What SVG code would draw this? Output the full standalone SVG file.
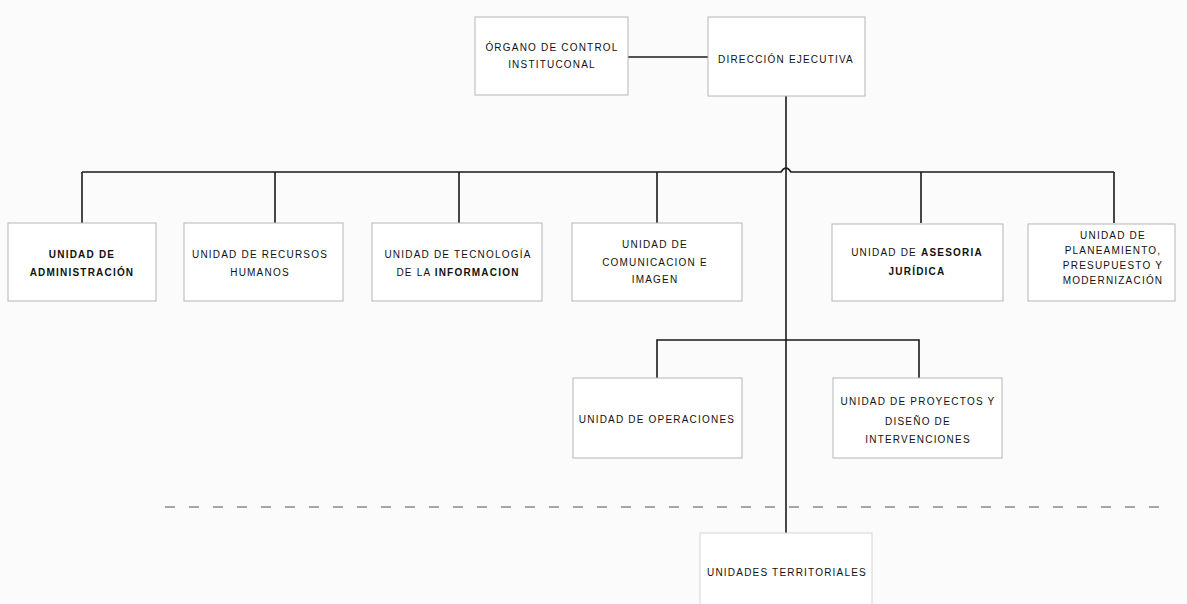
<svg xmlns="http://www.w3.org/2000/svg" width="1187" height="604" viewBox="0 0 1187 604">
<style>
.box{fill:#ffffff;stroke:#b5b5b5;stroke-width:1}
.t{font-family:"Liberation Sans",Arial,sans-serif;font-size:10px;letter-spacing:1.2px;fill:#111111;text-anchor:middle}
.b{font-weight:bold}
.ln{fill:none;stroke:#1a1a1a;stroke-width:1.6}
</style>
<rect x="0" y="0" width="1187" height="604" fill="#fbfbfb"/>
<g id="connectors">
<line class="ln" x1="628" y1="57" x2="708" y2="57"/>
<line class="ln" x1="786" y1="96" x2="786" y2="533"/>
<path class="ln" stroke-width="2" d="M82,172 H781 Q786,164 791,172 H1114"/>
<line class="ln" x1="82" y1="172" x2="82" y2="223"/>
<line class="ln" x1="275" y1="172" x2="275" y2="223"/>
<line class="ln" x1="459" y1="172" x2="459" y2="223"/>
<line class="ln" x1="657" y1="172" x2="657" y2="223"/>
<line class="ln" x1="921" y1="172" x2="921" y2="223"/>
<line class="ln" x1="1114" y1="172" x2="1114" y2="223"/>
<path class="ln" d="M657,378 V340 H919 V378"/>
<line x1="165" y1="507" x2="1162" y2="507" stroke="#555" stroke-width="1.2" stroke-dasharray="10 14"/>
</g>
<g id="organo">
<rect class="box" x="475" y="17" width="153" height="78"/>
<text class="t" x="552" y="51">ÓRGANO DE CONTROL</text>
<text class="t" x="552" y="68">INSTITUCONAL</text>
</g>
<g id="direccion">
<rect class="box" x="708" y="17" width="157" height="79"/>
<text class="t" x="786" y="63">DIRECCIÓN EJECUTIVA</text>
</g>
<g id="administracion">
<rect class="box" x="8" y="223" width="148" height="78"/>
<text class="t b" x="82" y="258">UNIDAD DE</text>
<text class="t b" x="82" y="276" letter-spacing="0.6">ADMINISTRACIÓN</text>
</g>
<g id="rrhh">
<rect class="box" x="184" y="223" width="159" height="78"/>
<text class="t" x="260" y="258">UNIDAD DE RECURSOS</text>
<text class="t" x="260" y="276">HUMANOS</text>
</g>
<g id="tecnologia">
<rect class="box" x="372" y="223" width="170" height="78"/>
<text class="t" x="458" y="258">UNIDAD DE TECNOLOGÍA</text>
<text class="t" x="458" y="276">DE LA <tspan class="b">INFORMACION</tspan></text>
</g>
<g id="comunicacion">
<rect class="box" x="572" y="223" width="170" height="78"/>
<text class="t" x="655" y="248">UNIDAD DE</text>
<text class="t" x="655" y="266">COMUNICACION E</text>
<text class="t" x="655" y="283">IMAGEN</text>
</g>
<g id="asesoria">
<rect class="box" x="832" y="224" width="171" height="77"/>
<text class="t" x="917" y="256">UNIDAD DE <tspan class="b">ASESORIA</tspan></text>
<text class="t b" x="917" y="275">JURÍDICA</text>
</g>
<g id="planeamiento">
<rect class="box" x="1028" y="224" width="147" height="77"/>
<text class="t" x="1113" y="239">UNIDAD DE</text>
<text class="t" x="1113" y="254" letter-spacing="0.8">PLANEAMIENTO,</text>
<text class="t" x="1113" y="269" letter-spacing="0.8">PRESUPUESTO Y</text>
<text class="t" x="1113" y="284" letter-spacing="0.6">MODERNIZACIÓN</text>
</g>
<g id="operaciones">
<rect class="box" x="573" y="378" width="169" height="80"/>
<text class="t" x="657" y="423" letter-spacing="0.9">UNIDAD DE OPERACIONES</text>
</g>
<g id="proyectos">
<rect class="box" x="833" y="378" width="169" height="80"/>
<text class="t" x="918" y="405" letter-spacing="0.9">UNIDAD DE PROYECTOS Y</text>
<text class="t" x="918" y="425">DISEÑO DE</text>
<text class="t" x="918" y="443">INTERVENCIONES</text>
</g>
<g id="territoriales">
<rect x="700" y="533" width="172" height="80" fill="#ffffff" stroke="#d6d6d6" stroke-width="1"/>
<text class="t" x="787" y="576" letter-spacing="0.6">UNIDADES TERRITORIALES</text>
</g>
</svg>
